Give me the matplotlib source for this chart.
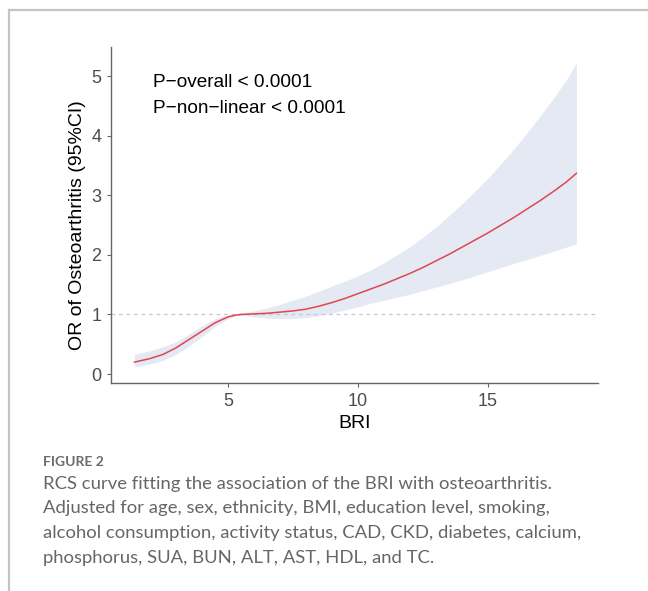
import numpy as np
import matplotlib
matplotlib.use("Agg")
import matplotlib.pyplot as plt

# restricted cubic spline estimate of OR by BRI, with 95% CI
bri = [1.4, 2.0, 2.5, 3.0, 3.5, 4.0, 4.5, 5.0, 5.3, 5.5, 6.0, 6.5, 7.0, 7.5,
       8.0, 8.5, 9.0, 9.5, 10.0, 10.5, 11.0, 11.5, 12.0, 12.5, 13.0, 13.5,
       14.0, 14.5, 15.0, 15.5, 16.0, 16.5, 17.0, 17.5, 18.0, 18.4]
odds_ratio = [0.20, 0.26, 0.33, 0.44, 0.58, 0.72, 0.86, 0.96, 0.99, 1.00,
              1.01, 1.02, 1.04, 1.06, 1.09, 1.14, 1.20, 1.27, 1.35, 1.43,
              1.51, 1.60, 1.69, 1.79, 1.90, 2.01, 2.13, 2.25, 2.37, 2.50,
              2.63, 2.77, 2.91, 3.06, 3.22, 3.37]
ci_lower = [0.12, 0.17, 0.23, 0.33, 0.47, 0.63, 0.80, 0.93, 0.99, 0.99,
            0.96, 0.94, 0.93, 0.93, 0.95, 0.98, 1.02, 1.08, 1.13, 1.19,
            1.24, 1.29, 1.34, 1.40, 1.46, 1.52, 1.58, 1.65, 1.72, 1.79,
            1.86, 1.92, 1.99, 2.06, 2.13, 2.19]
ci_upper = [0.33, 0.39, 0.46, 0.54, 0.67, 0.81, 0.93, 0.99, 1.00, 1.02,
            1.06, 1.11, 1.17, 1.24, 1.31, 1.39, 1.48, 1.56, 1.65, 1.75,
            1.87, 2.00, 2.14, 2.30, 2.47, 2.66, 2.86, 3.07, 3.29, 3.53,
            3.78, 4.05, 4.33, 4.62, 4.93, 5.22]

x_ticks = [5, 10, 15]
y_ticks = [0, 1, 2, 3, 4, 5]
p_labels = ["P\u2212overall < 0.0001", "P\u2212non\u2212linear < 0.0001"]

caption_head = "FIGURE 2"
caption_lines = [
    "RCS curve fitting the association of the BRI with osteoarthritis.",
    "Adjusted for age, sex, ethnicity, BMI, education level, smoking,",
    "alcohol consumption, activity status, CAD, CKD, diabetes, calcium,",
    "phosphorus, SUA, BUN, ALT, AST, HDL, and TC.",
]

plt.rcParams["font.family"] = ["Liberation Sans", "DejaVu Sans"]

fig = plt.figure(figsize=(6.48, 5.91), dpi=100)
W, H = 648, 591

# page frame (top and left rule)
fig.add_artist(plt.Line2D([9 / W, 9 / W], [0, 1 - 10 / H],
                          color="#c4c4c4", lw=1.6, transform=fig.transFigure))
fig.add_artist(plt.Line2D([9 / W, 1], [1 - 10 / H, 1 - 10 / H],
                          color="#c4c4c4", lw=1.6, transform=fig.transFigure))

ax = fig.add_axes([111 / W, 1 - 383 / H, 487 / W, 336 / H])

ax.fill_between(bri, ci_lower, ci_upper, color="#e4e9f3", lw=0, zorder=1)
ax.plot(bri, odds_ratio, color="#e0474f", lw=1.1, zorder=3)
ax.axhline(1, color="#c8c8c8", lw=0.9, ls=(0, (3, 3)), zorder=2)

ax.set_xlim(0.5, 19.23)
ax.set_ylim(-0.15, 5.49)
ax.set_xticks(x_ticks)
ax.set_yticks(y_ticks)

for side in ["top", "right"]:
    ax.spines[side].set_visible(False)
for side in ["left", "bottom"]:
    ax.spines[side].set_color("#666666")
    ax.spines[side].set_linewidth(1.0)

ax.tick_params(axis="both", colors="#666666", labelcolor="#4d4d4d",
               labelsize=13, length=3, width=0.8, pad=4)

ax.set_xlabel("BRI", fontsize=14, color="black", labelpad=4)
ax.set_ylabel("OR of Osteoarthritis (95%CI)", fontsize=14, color="black")
ax.yaxis.set_label_coords(-0.052, 0.47)

for i, txt in enumerate(p_labels):
    ax.text(0.086, 0.893 - i * 0.075, txt, transform=ax.transAxes,
            fontsize=13.7, ha="left", va="center", color="black")

# caption below the plot
fig.text(43 / W, 1 - 462 / H, caption_head, fontsize=10, fontweight="bold",
         color="#6b6b6b", family=["Lato", "DejaVu Sans"], va="center")
for i, line in enumerate(caption_lines):
    fig.text(43 / W, 1 - (484 + i * 24.5) / H, line, fontsize=13.3,
             color="#666666", family=["Lato", "DejaVu Sans"], va="center")

fig.savefig("out.png", dpi=100)
